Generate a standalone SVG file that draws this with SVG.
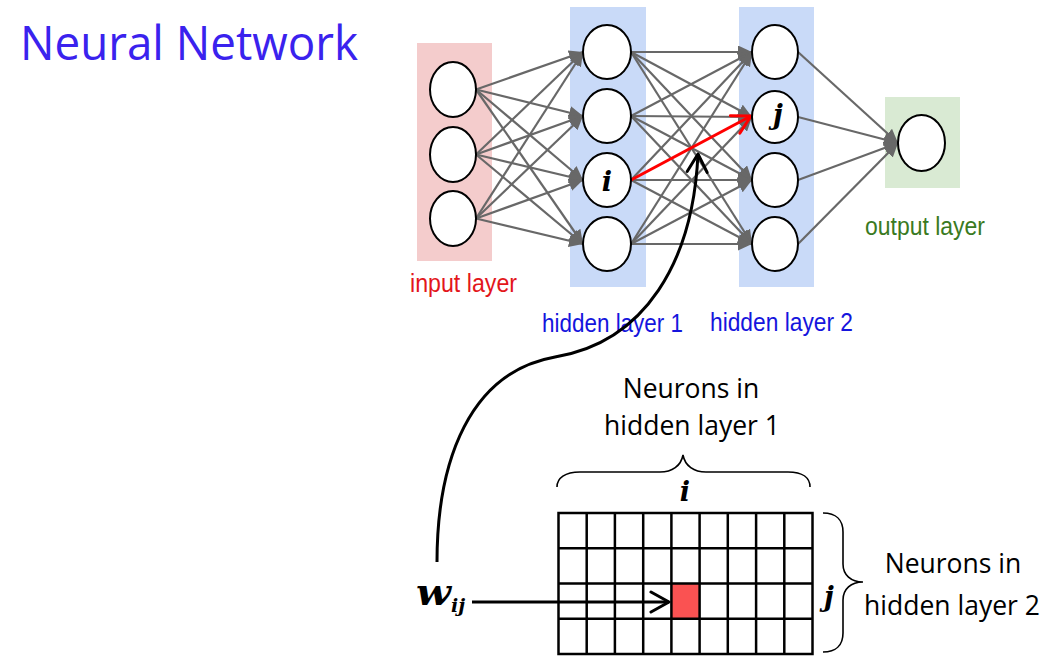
<svg xmlns="http://www.w3.org/2000/svg" width="1048" height="656" viewBox="0 0 1048 656">
  <defs>
    <style>
      .title { font-family: "Open Sans", "Noto Sans", sans-serif; font-size: 47px; fill: #3a22ee; }
      .lbl { font-family: "Liberation Sans", Arial, sans-serif; font-size: 25.5px; }
      .note { font-family: "Open Sans", "Noto Sans", sans-serif; font-size: 26.5px; fill: #000; text-anchor: middle; }
      .math { font-family: "DejaVu Serif", "Liberation Serif", serif; font-weight: bold; font-style: italic; fill: #000; }
      .neuron { fill: #fff; stroke: #000; stroke-width: 2; }
      .conn line { stroke: #686868; stroke-width: 2.2; marker-end: url(#tri); }
      .grid { fill: none; stroke: #000; stroke-width: 2.5; }
      .brace { fill: none; stroke: #000; stroke-width: 1.6; }
    </style>
    <marker id="tri" markerUnits="userSpaceOnUse" markerWidth="15" markerHeight="13" refX="14" refY="6.5" orient="auto">
      <path d="M0,0 L14,6.5 L0,13 Z" fill="#686868"/>
    </marker>
    <marker id="chevRed" markerUnits="userSpaceOnUse" markerWidth="24" markerHeight="24" refX="20" refY="12" orient="auto">
      <path d="M2,2 L20,12 L2,22" fill="none" stroke="#ff0000" stroke-width="3" stroke-linecap="round" stroke-linejoin="round"/>
    </marker>
    <marker id="chevBlack" markerUnits="userSpaceOnUse" markerWidth="24" markerHeight="24" refX="20" refY="12" orient="auto">
      <path d="M2,2 L20,12 L2,22" fill="none" stroke="#000" stroke-width="3" stroke-linecap="round" stroke-linejoin="round"/>
    </marker>
  </defs>

  <rect width="1048" height="656" fill="#fff"/>

  <text class="title" x="20" y="60" textLength="338" lengthAdjust="spacingAndGlyphs">Neural Network</text>

  <!-- layer panels -->
  <g id="panel-input"><rect x="417" y="43" width="75" height="218" fill="#f4cccc"/></g>
  <g id="panel-hidden1"><rect x="570" y="7" width="76" height="280" fill="#c9daf8"/></g>
  <g id="panel-hidden2"><rect x="739" y="7" width="75" height="280" fill="#c9daf8"/></g>
  <g id="panel-output"><rect x="885" y="97" width="75" height="91" fill="#d9ead3"/></g>

  <!-- layer labels -->
  <text class="lbl" x="410" y="292" textLength="107" lengthAdjust="spacingAndGlyphs" fill="#e3161b">input layer</text>
  <text class="lbl" x="542" y="332" textLength="141" lengthAdjust="spacingAndGlyphs" fill="#1515dd">hidden layer 1</text>
  <text class="lbl" x="710" y="331" textLength="143" lengthAdjust="spacingAndGlyphs" fill="#1515dd">hidden layer 2</text>
  <text class="lbl" x="865" y="235" textLength="120" lengthAdjust="spacingAndGlyphs" fill="#3a7a22">output layer</text>

  <!-- connectors -->
  <g id="connectors">
    <g class="conn">
      <!-- input -> hidden 1 -->
      <line x1="476" y1="89.5" x2="583" y2="52"/>
      <line x1="476" y1="89.5" x2="583" y2="116"/>
      <line x1="476" y1="89.5" x2="583" y2="180"/>
      <line x1="476" y1="89.5" x2="583" y2="244"/>
      <line x1="476" y1="154.5" x2="583" y2="52"/>
      <line x1="476" y1="154.5" x2="583" y2="116"/>
      <line x1="476" y1="154.5" x2="583" y2="180"/>
      <line x1="476" y1="154.5" x2="583" y2="244"/>
      <line x1="476" y1="218.5" x2="583" y2="52"/>
      <line x1="476" y1="218.5" x2="583" y2="116"/>
      <line x1="476" y1="218.5" x2="583" y2="180"/>
      <line x1="476" y1="218.5" x2="583" y2="244"/>
      <!-- hidden 1 -> hidden 2 -->
      <line x1="631" y1="52" x2="752" y2="52"/>
      <line x1="631" y1="52" x2="752" y2="117"/>
      <line x1="631" y1="52" x2="752" y2="180"/>
      <line x1="631" y1="52" x2="752" y2="244"/>
      <line x1="631" y1="116" x2="752" y2="52"/>
      <line x1="631" y1="116" x2="752" y2="117"/>
      <line x1="631" y1="116" x2="752" y2="180"/>
      <line x1="631" y1="116" x2="752" y2="244"/>
      <line x1="631" y1="180" x2="752" y2="52"/>
      <line x1="631" y1="180" x2="752" y2="180"/>
      <line x1="631" y1="180" x2="752" y2="244"/>
      <line x1="631" y1="244" x2="752" y2="52"/>
      <line x1="631" y1="244" x2="752" y2="117"/>
      <line x1="631" y1="244" x2="752" y2="180"/>
      <line x1="631" y1="244" x2="752" y2="244"/>
      <!-- hidden 2 -> output -->
      <line x1="798" y1="52" x2="898" y2="143"/>
      <line x1="798" y1="117" x2="898" y2="143"/>
      <line x1="798" y1="180" x2="898" y2="143"/>
      <line x1="798" y1="244" x2="898" y2="143"/>
    </g>
    <!-- highlighted weight i -> j -->
    <line x1="631" y1="180" x2="751" y2="116" stroke="#ff0000" stroke-width="3" marker-end="url(#chevRed)"/>
  </g>

  <!-- neurons -->
  <g id="in-1"><ellipse class="neuron" cx="453" cy="89.5" rx="23" ry="27.5"/></g>
  <g id="in-2"><ellipse class="neuron" cx="453" cy="154.5" rx="23" ry="27.5"/></g>
  <g id="in-3"><ellipse class="neuron" cx="453" cy="218.5" rx="23" ry="27.5"/></g>

  <g id="h1-1"><ellipse class="neuron" cx="607" cy="52" rx="24" ry="27"/></g>
  <g id="h1-2"><ellipse class="neuron" cx="607" cy="116" rx="24" ry="27"/></g>
  <g id="h1-i"><ellipse class="neuron" cx="607" cy="180" rx="24" ry="27"/>
    <text class="math" x="607" y="191" font-size="27" text-anchor="middle">i</text></g>
  <g id="h1-4"><ellipse class="neuron" cx="607" cy="244" rx="24" ry="27"/></g>

  <g id="h2-1"><ellipse class="neuron" cx="775" cy="52" rx="23" ry="27"/></g>
  <g id="h2-j"><ellipse class="neuron" cx="775" cy="117" rx="23" ry="26"/>
    <text class="math" x="778" y="124" font-size="27" text-anchor="middle">j</text></g>
  <g id="h2-3"><ellipse class="neuron" cx="775" cy="180" rx="23" ry="27"/></g>
  <g id="h2-4"><ellipse class="neuron" cx="775" cy="244" rx="23" ry="27"/></g>

  <g id="out-1"><ellipse class="neuron" cx="921.5" cy="143" rx="23.5" ry="28"/></g>

  <!-- weight matrix -->
  <g id="weight-matrix">
    <rect x="671.4" y="583.5" width="28.2" height="35.3" fill="#fa5252"/>
    <rect class="grid" x="558.5" y="513" width="254" height="141"/>
    <path class="grid" d="M586.7,513V654 M614.9,513V654 M643.2,513V654 M671.4,513V654 M699.6,513V654 M727.8,513V654 M756.1,513V654 M784.3,513V654
                          M558.5,548.25H812.5 M558.5,583.5H812.5 M558.5,618.75H812.5"/>
  </g>

  <!-- column brace and label -->
  <g id="cols-label">
    <path class="brace" d="M557,487 C557,478 565,472 580,472 L660,472 C672,472 681,466 683,455 C685,466 694,472 706,472 L788,472 C803,472 810,478 810,487"/>
    <text class="math" x="685" y="501" font-size="27" text-anchor="middle">i</text>
    <text class="note" x="691" y="398">Neurons in</text>
    <text class="note" x="692" y="435">hidden layer 1</text>
  </g>

  <!-- row brace and label -->
  <g id="rows-label">
    <path class="brace" d="M823,513 C836,513 843,520 843,532 L843,564 C843,575 851,582 863,582 C851,582 843,589 843,600 L843,633 C843,645 836,652 823,652"/>
    <text class="math" x="829" y="606" font-size="27" text-anchor="middle">j</text>
    <text class="note" x="953" y="573">Neurons in</text>
    <text class="note" x="952" y="615">hidden layer 2</text>
  </g>

  <!-- weight symbol -->
  <g id="w-label">
    <text class="math" x="416" y="605" font-size="35" textLength="35" lengthAdjust="spacingAndGlyphs">w</text>
    <text class="math" x="451" y="612" font-size="19">ij</text>
    <line x1="472" y1="602" x2="669" y2="602" stroke="#000" stroke-width="3" marker-end="url(#chevBlack)"/>
  </g>

  <!-- link from the weight back to the network -->
  <g id="w-link">
    <path d="M437,562 C437,460 470,372 555,357 C645,342 693,262 698,154" fill="none" stroke="#000" stroke-width="3" marker-end="url(#chevBlack)"/>
  </g>
</svg>
